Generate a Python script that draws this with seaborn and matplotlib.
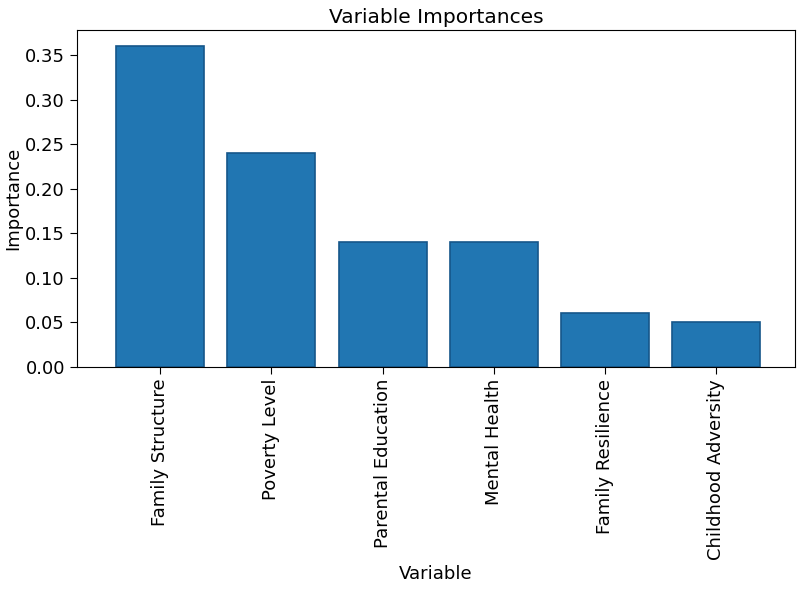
import pandas as pd
import matplotlib
matplotlib.use('Agg')
import matplotlib.pyplot as plt
import seaborn as sns

variables = ['Family Structure', 'Poverty Level', 'Parental Education',
             'Mental Health', 'Family Resilience', 'Childhood Adversity']
importances = [0.36, 0.24, 0.14, 0.14, 0.06, 0.05]
yticks = [0.0, 0.05, 0.10, 0.15, 0.20, 0.25, 0.30, 0.35]

df = pd.DataFrame({'Variable': variables, 'Importance': importances})

sns.set_style('ticks')
plt.rcParams['font.family'] = ['DejaVu Sans']
plt.rcParams['text.color'] = 'black'
plt.rcParams['axes.labelcolor'] = 'black'

fig = plt.figure(figsize=(8, 5.89), dpi=100)
ax = fig.add_axes([0.096, 0.377, 0.898, 0.572])
sns.barplot(data=df, x='Variable', y='Importance', color='#2176b2',
            saturation=1, edgecolor='#15568a', linewidth=1.2, width=0.79, ax=ax)
ax.set_xlim(-0.75, 5.71)
ax.set_ylim(0, 0.378)
ax.set_yticks(yticks)
ax.set_yticklabels([f'{v:.2f}' for v in yticks])
ax.tick_params(axis='both', labelsize=13, colors='black', length=5)
plt.setp(ax.get_xticklabels(), rotation=90)
ax.set_title('Variable Importances', fontsize=14.5, pad=5)
ax.set_xlabel('Variable', fontsize=13)
ax.set_ylabel('Importance', fontsize=13, labelpad=2)
for s in ax.spines.values():
    s.set_visible(True)
    s.set_color('black')

fig.savefig('out.png', dpi=100)
